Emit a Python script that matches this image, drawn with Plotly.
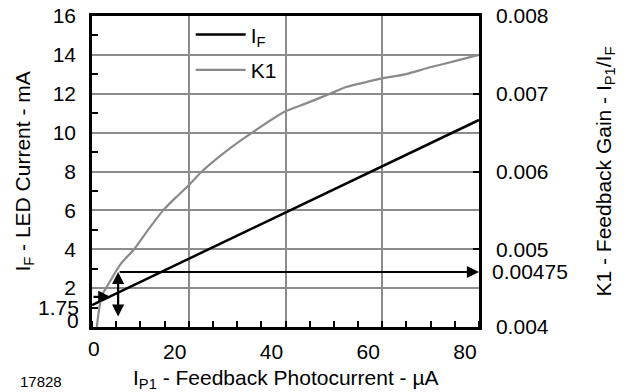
import plotly.graph_objects as go

# ---------------- data ----------------
IP1_IF = [0, 80]                 # feedback photocurrent (uA)
IF_MA = [1.13, 10.65]            # LED current (mA)

IP1_K1 = [1.0, 1.45, 2.07, 2.9, 5.8, 8.7, 11.6, 14.7, 17.4, 19.8, 22.7, 27.5,
          33.1, 39.7, 44.0, 49.2, 52.7, 56.0, 60.2, 64.7, 69.9, 75.0, 80.0]
K1_GAIN = [0.0040, 0.00422, 0.00441, 0.0045, 0.0048, 0.0050, 0.00525, 0.0055,
           0.00567, 0.00581, 0.0060, 0.00625, 0.0065, 0.006765, 0.00687, 0.0070,
           0.00709, 0.00714, 0.0072, 0.00725, 0.00734, 0.00742, 0.0075]

X_TICKS = [20, 40, 60, 80]
X_TICK_TEXT = ["20", "40", "60", "80"]
Y_LEFT_TICKS = [2, 4, 6, 8, 10, 12, 14, 16]
Y_LEFT_TEXT = ["2", "4", "6", "8", "10", "12", "14", "16"]
Y_RIGHT_TICKS = [0.004, 0.005, 0.006, 0.007, 0.008]
Y_RIGHT_TEXT = ["0.004", "0.005", "0.006", "0.007", "0.008"]
K1_EXAMPLE = 0.00475
K1_EXAMPLE_TEXT = "0.00475"

# example read-off (arrows)
EX_IF_LEVEL = 1.55     # mA, arrow from left axis to I_F line
EX_IF_HIT = 3.8        # uA, where that arrow meets I_F
EX_IP1 = 5.4           # uA, vertical arrow
EX_LEVEL = 2.83        # left-axis level of the read-off to the K1 axis
EX_BOTTOM = 0.46

FONT = "Liberation Sans, Arial, Helvetica, sans-serif"
GRID = "#8c8c8c"
K1_COLOR = "#8a8a8a"

fig = go.Figure()
fig.add_trace(go.Scatter(x=IP1_IF, y=IF_MA, mode="lines", name="I<sub>F</sub>",
                         line=dict(color="black", width=2.5), legendgroup="a"))
fig.add_trace(go.Scatter(x=IP1_K1, y=K1_GAIN, mode="lines", name="K1", yaxis="y2",
                         line=dict(color=K1_COLOR, width=2.2, shape="spline", smoothing=0.6),
                         legendgroup="b"))

ann = []
# arrows
ann.append(dict(x=EX_IF_HIT, y=EX_IF_LEVEL, ax=0, ay=EX_IF_LEVEL, xref="x", yref="y",
                axref="x", ayref="y", text="", showarrow=True, arrowhead=2,
                arrowsize=1.1, arrowwidth=2.2, arrowcolor="black"))
ann.append(dict(x=EX_IP1, y=EX_LEVEL, ax=EX_IP1, ay=EX_BOTTOM, xref="x", yref="y",
                axref="x", ayref="y", text="", showarrow=True, arrowhead=2,
                arrowside="end+start", arrowsize=1.1, arrowwidth=2.2, arrowcolor="black"))
ann.append(dict(x=80, y=EX_LEVEL, ax=EX_IP1, ay=EX_LEVEL, xref="x", yref="y",
                axref="x", ayref="y", text="", showarrow=True, arrowhead=2,
                arrowsize=1.1, arrowwidth=2.2, arrowcolor="black"))
# special tick labels
ann.append(dict(x=0, y=0, xref="paper", yref="y", text="0", showarrow=False,
                xanchor="right", yanchor="middle", xshift=-11, yshift=7,
                font=dict(size=21)))
ann.append(dict(x=0, y=1.75, xref="paper", yref="y", text="1.75", showarrow=False,
                xanchor="right", yanchor="middle", xshift=-11, yshift=-15,
                font=dict(size=21)))
ann.append(dict(x=0, y=0, xref="x", yref="paper", text="0", showarrow=False,
                xanchor="center", yanchor="top", xshift=2, yshift=-8,
                font=dict(size=21)))
ann.append(dict(x=1, y=K1_EXAMPLE, xref="paper", yref="y2", text=K1_EXAMPLE_TEXT,
                showarrow=False, xanchor="left", yanchor="middle", xshift=11, yshift=-3,
                font=dict(size=21)))
# axis titles
ann.append(dict(x=-0.178, y=0.5, xref="paper", yref="paper",
                text="I<sub>F</sub> - LED Current - mA", textangle=-90,
                showarrow=False, xanchor="center", yanchor="middle", font=dict(size=21)))
ann.append(dict(x=1.323, y=0.5, xref="paper", yref="paper",
                text="K1 - Feedback Gain - I<sub>P1</sub>/I<sub>F</sub>", textangle=-90,
                showarrow=False, xanchor="center", yanchor="middle", font=dict(size=21)))
ann.append(dict(x=0.5, y=-0.168, xref="paper", yref="paper",
                text="I<sub>P1</sub> - Feedback Photocurrent - µA",
                showarrow=False, xanchor="center", yanchor="middle", font=dict(size=21)))
ann.append(dict(x=-0.132, y=-0.174, xref="paper", yref="paper", text="17828",
                showarrow=False, xanchor="center", yanchor="middle", font=dict(size=15)))

fig.update_layout(
    width=627, height=392,
    margin=dict(l=92, r=148, t=16, b=65, autoexpand=False),
    paper_bgcolor="white", plot_bgcolor="white",
    font=dict(family=FONT, size=21, color="black"),
    showlegend=True,
    legend=dict(x=0.255, y=1.005, xanchor="left", yanchor="top",
                bgcolor="rgba(0,0,0,0)", borderwidth=0, tracegroupgap=5,
                font=dict(size=21), itemwidth=50),
    xaxis=dict(range=[0, 80], tickvals=X_TICKS, ticktext=X_TICK_TEXT,
               ticks="", ticklabelshift=-14, ticklabelstandoff=4, automargin=False,
               ticklabeloverflow="allow",
               showgrid=True, gridcolor=GRID, gridwidth=2,
               showline=True, linecolor="black", linewidth=2.5, mirror=True,
               zeroline=False,
               minor=dict(dtick=5, tick0=0, ticks="inside", ticklen=6,
                          tickwidth=2, tickcolor="black", showgrid=False)),
    yaxis=dict(range=[0, 16], tickvals=Y_LEFT_TICKS, ticktext=Y_LEFT_TEXT,
               ticks="", ticklabelstandoff=9, automargin=False,
               ticklabeloverflow="allow",
               showgrid=True, gridcolor=GRID, gridwidth=2,
               showline=True, linecolor="black", linewidth=2.5, zeroline=False,
               minor=dict(dtick=2, tick0=1, ticks="inside", ticklen=6,
                          tickwidth=2, tickcolor="black", showgrid=False)),
    yaxis2=dict(range=[0.004, 0.008], overlaying="y", side="right",
                tickvals=Y_RIGHT_TICKS, ticktext=Y_RIGHT_TEXT, automargin=False,
                ticklabeloverflow="allow",
                ticks="inside", ticklen=6, tickwidth=2, tickcolor="black",
                ticklabelstandoff=10,
                showgrid=False, showline=True, linecolor="black", linewidth=2.5,
                zeroline=False),
    annotations=ann,
)

# remove the default 8px page margin so the figure fills the window exactly
fig.write_html("out.html", config={"displayModeBar": False},
               post_script="document.body.style.margin='0';")
